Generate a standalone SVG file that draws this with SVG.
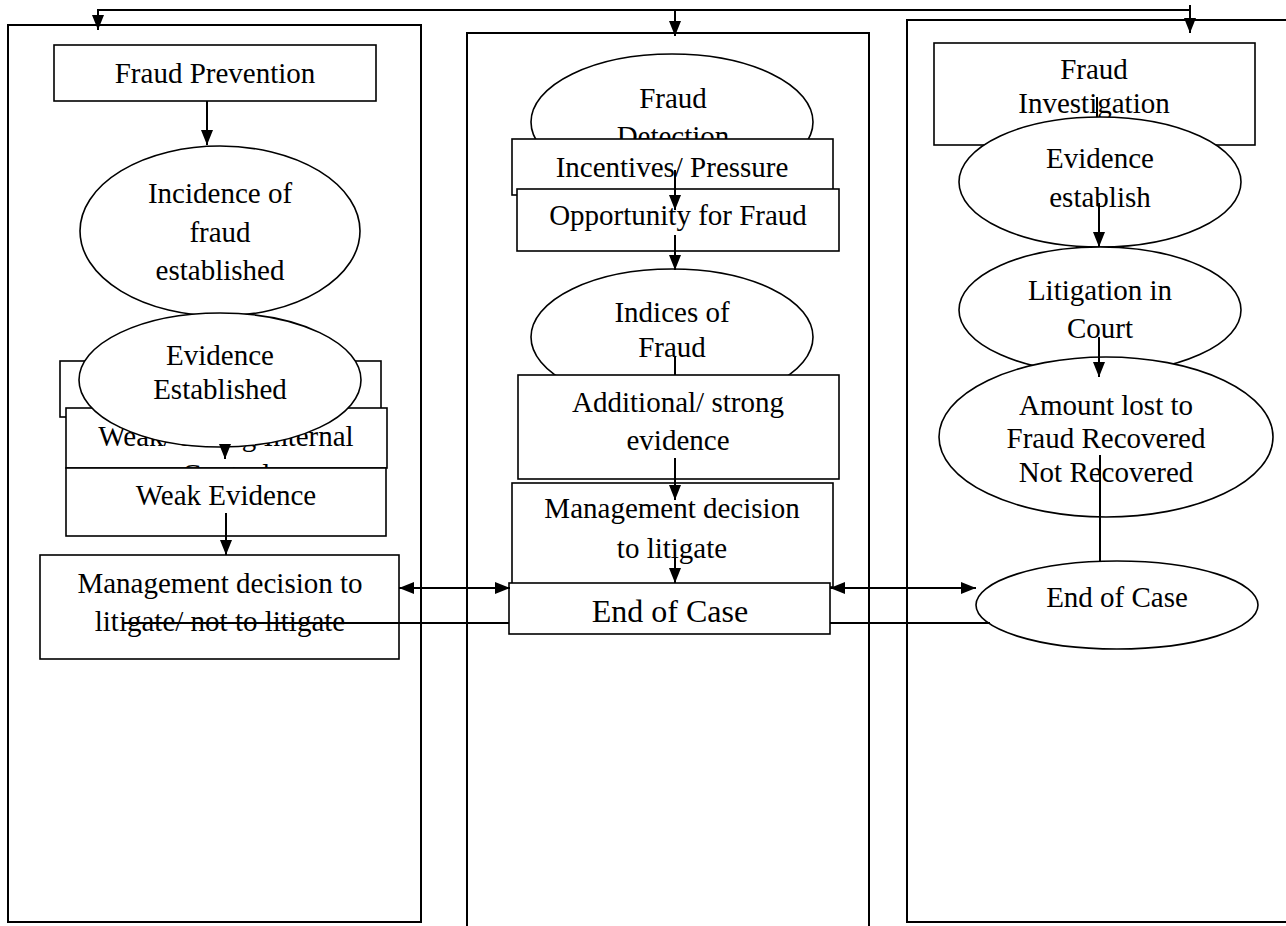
<svg xmlns="http://www.w3.org/2000/svg" width="1286" height="926" viewBox="0 0 1286 926">
<defs>
<marker id="ah" markerUnits="userSpaceOnUse" markerWidth="15" markerHeight="12" refX="15" refY="6" orient="auto-start-reverse">
<path d="M0,0 L15,6 L0,12 z" fill="#000"/>
</marker>
<clipPath id="clipWS">
<rect x="66" y="408" width="321" height="60"/>
</clipPath>
<style>
.fr{fill:none;stroke:#000;stroke-width:2}
.n{fill:#fff;stroke:#000;stroke-width:1.6}
.t{font-family:"Liberation Serif","Times New Roman",serif;font-size:29px;fill:#000;text-anchor:middle}
.big{font-size:32px}
.c{fill:none;stroke:#000;stroke-width:2}
.a{marker-end:url(#ah)}
.d{marker-start:url(#ah);marker-end:url(#ah)}
</style>
</defs>
<rect width="1286" height="926" fill="#fff"/>
<g id="frames">
<rect class="fr" x="8" y="25" width="413" height="897"/>
<rect class="fr" x="467" y="33" width="402" height="900"/>
<rect class="fr" x="907" y="20" width="400" height="902"/>
</g>
<g id="fraud-prevention">
<rect class="n" x="54" y="45" width="322" height="56"/>
<text class="t" x="215" y="83">Fraud Prevention</text>
</g>
<g id="incidence">
<ellipse class="n" cx="220" cy="231" rx="140" ry="85"/>
<text class="t" x="220" y="203">Incidence of</text>
<text class="t" x="220" y="242">fraud</text>
<text class="t" x="220" y="280">established</text>
</g>
<g id="hidden-box">
<rect class="n" x="60" y="361" width="321" height="56"/>
</g>
<g id="weak-strong-control">
<rect class="n" x="66" y="408" width="321" height="60"/>
<text class="t" x="226" y="446" clip-path="url(#clipWS)">Weak/ Strong Internal</text>
<text class="t" x="226" y="484" clip-path="url(#clipWS)">Control</text>
</g>
<g id="evidence-established">
<ellipse class="n" cx="220" cy="380" rx="141" ry="67"/>
<text class="t" x="220" y="365">Evidence</text>
<text class="t" x="220" y="399">Established</text>
</g>
<g id="weak-evidence">
<rect class="n" x="66" y="468" width="320" height="68"/>
<text class="t" x="226" y="505">Weak Evidence</text>
</g>
<g id="mgmt-left">
<rect class="n" x="40" y="555" width="359" height="104"/>
<text class="t" x="220" y="593">Management decision to</text>
<text class="t" x="220" y="631">litigate/ not to litigate</text>
</g>
<g id="fraud-detection">
<ellipse class="n" cx="672" cy="122" rx="141" ry="68"/>
<text class="t" x="673" y="108">Fraud</text>
<text class="t" x="673" y="146">Detection</text>
</g>
<g id="incentives">
<rect class="n" x="512" y="139" width="321" height="56"/>
<text class="t" x="672" y="177">Incentives/ Pressure</text>
</g>
<g id="opportunity">
<rect class="n" x="517" y="189" width="322" height="62"/>
<text class="t" x="678" y="225">Opportunity for Fraud</text>
</g>
<g id="indices">
<ellipse class="n" cx="672" cy="337" rx="141" ry="68"/>
<text class="t" x="672" y="322">Indices of</text>
<text class="t" x="672" y="357">Fraud</text>
</g>
<g id="additional">
<rect class="n" x="518" y="375" width="321" height="104"/>
<text class="t" x="678" y="412">Additional/ strong</text>
<text class="t" x="678" y="450">evidence</text>
</g>
<g id="mgmt-mid">
<rect class="n" x="512" y="483" width="321" height="104"/>
<text class="t" x="672" y="518">Management decision</text>
<text class="t" x="672" y="558">to litigate</text>
</g>
<g id="end-mid">
<rect class="n" x="509" y="583" width="321" height="51"/>
<text class="t big" x="670" y="622">End of Case</text>
</g>
<g id="fraud-investigation">
<rect class="n" x="934" y="43" width="321" height="102"/>
<text class="t" x="1094" y="79">Fraud</text>
<text class="t" x="1094" y="113">Investigation</text>
</g>
<g id="evidence-establish">
<ellipse class="n" cx="1100" cy="182" rx="141" ry="65"/>
<text class="t" x="1100" y="168">Evidence</text>
<text class="t" x="1100" y="207">establish</text>
</g>
<g id="litigation">
<ellipse class="n" cx="1100" cy="310" rx="141" ry="63"/>
<text class="t" x="1100" y="300">Litigation in</text>
<text class="t" x="1100" y="338">Court</text>
</g>
<g id="amount-lost">
<ellipse class="n" cx="1106" cy="437" rx="167" ry="80"/>
<text class="t" x="1106" y="415">Amount lost to</text>
<text class="t" x="1106" y="448">Fraud Recovered</text>
<text class="t" x="1106" y="482">Not Recovered</text>
</g>
<g id="end-right">
<ellipse class="n" cx="1117" cy="605" rx="141" ry="44"/>
<text class="t" x="1117" y="607">End of Case</text>
</g>
<g id="connectors">
<polyline class="c" points="98,10 1190,10"/>
<line class="c a" x1="98" y1="9" x2="98" y2="30"/>
<line class="c a" x1="675" y1="10" x2="675" y2="36"/>
<line class="c a" x1="1190" y1="5" x2="1190" y2="33"/>
<line class="c a" x1="207" y1="101" x2="207" y2="145"/>
<line class="c a" x1="225" y1="445" x2="225" y2="459"/>
<line class="c a" x1="226" y1="513" x2="226" y2="555"/>
<line class="c a" x1="675" y1="170" x2="675" y2="210"/>
<line class="c a" x1="675" y1="235" x2="675" y2="270"/>
<line class="c" x1="675" y1="356" x2="675" y2="375"/>
<line class="c a" x1="675" y1="458" x2="675" y2="500"/>
<line class="c a" x1="675" y1="557" x2="675" y2="583"/>
<line class="c" x1="1097" y1="97" x2="1097" y2="117"/>
<line class="c a" x1="1099" y1="203" x2="1099" y2="247"/>
<line class="c a" x1="1099" y1="337" x2="1099" y2="377"/>
<line class="c" x1="1100" y1="455" x2="1100" y2="561"/>
<line class="c d" x1="399" y1="588" x2="510" y2="588"/>
<line class="c d" x1="830" y1="588" x2="976" y2="588"/>
<line class="c" x1="124" y1="623" x2="509" y2="623"/>
<line class="c" x1="830" y1="623" x2="990" y2="623"/>
</g>
</svg>
